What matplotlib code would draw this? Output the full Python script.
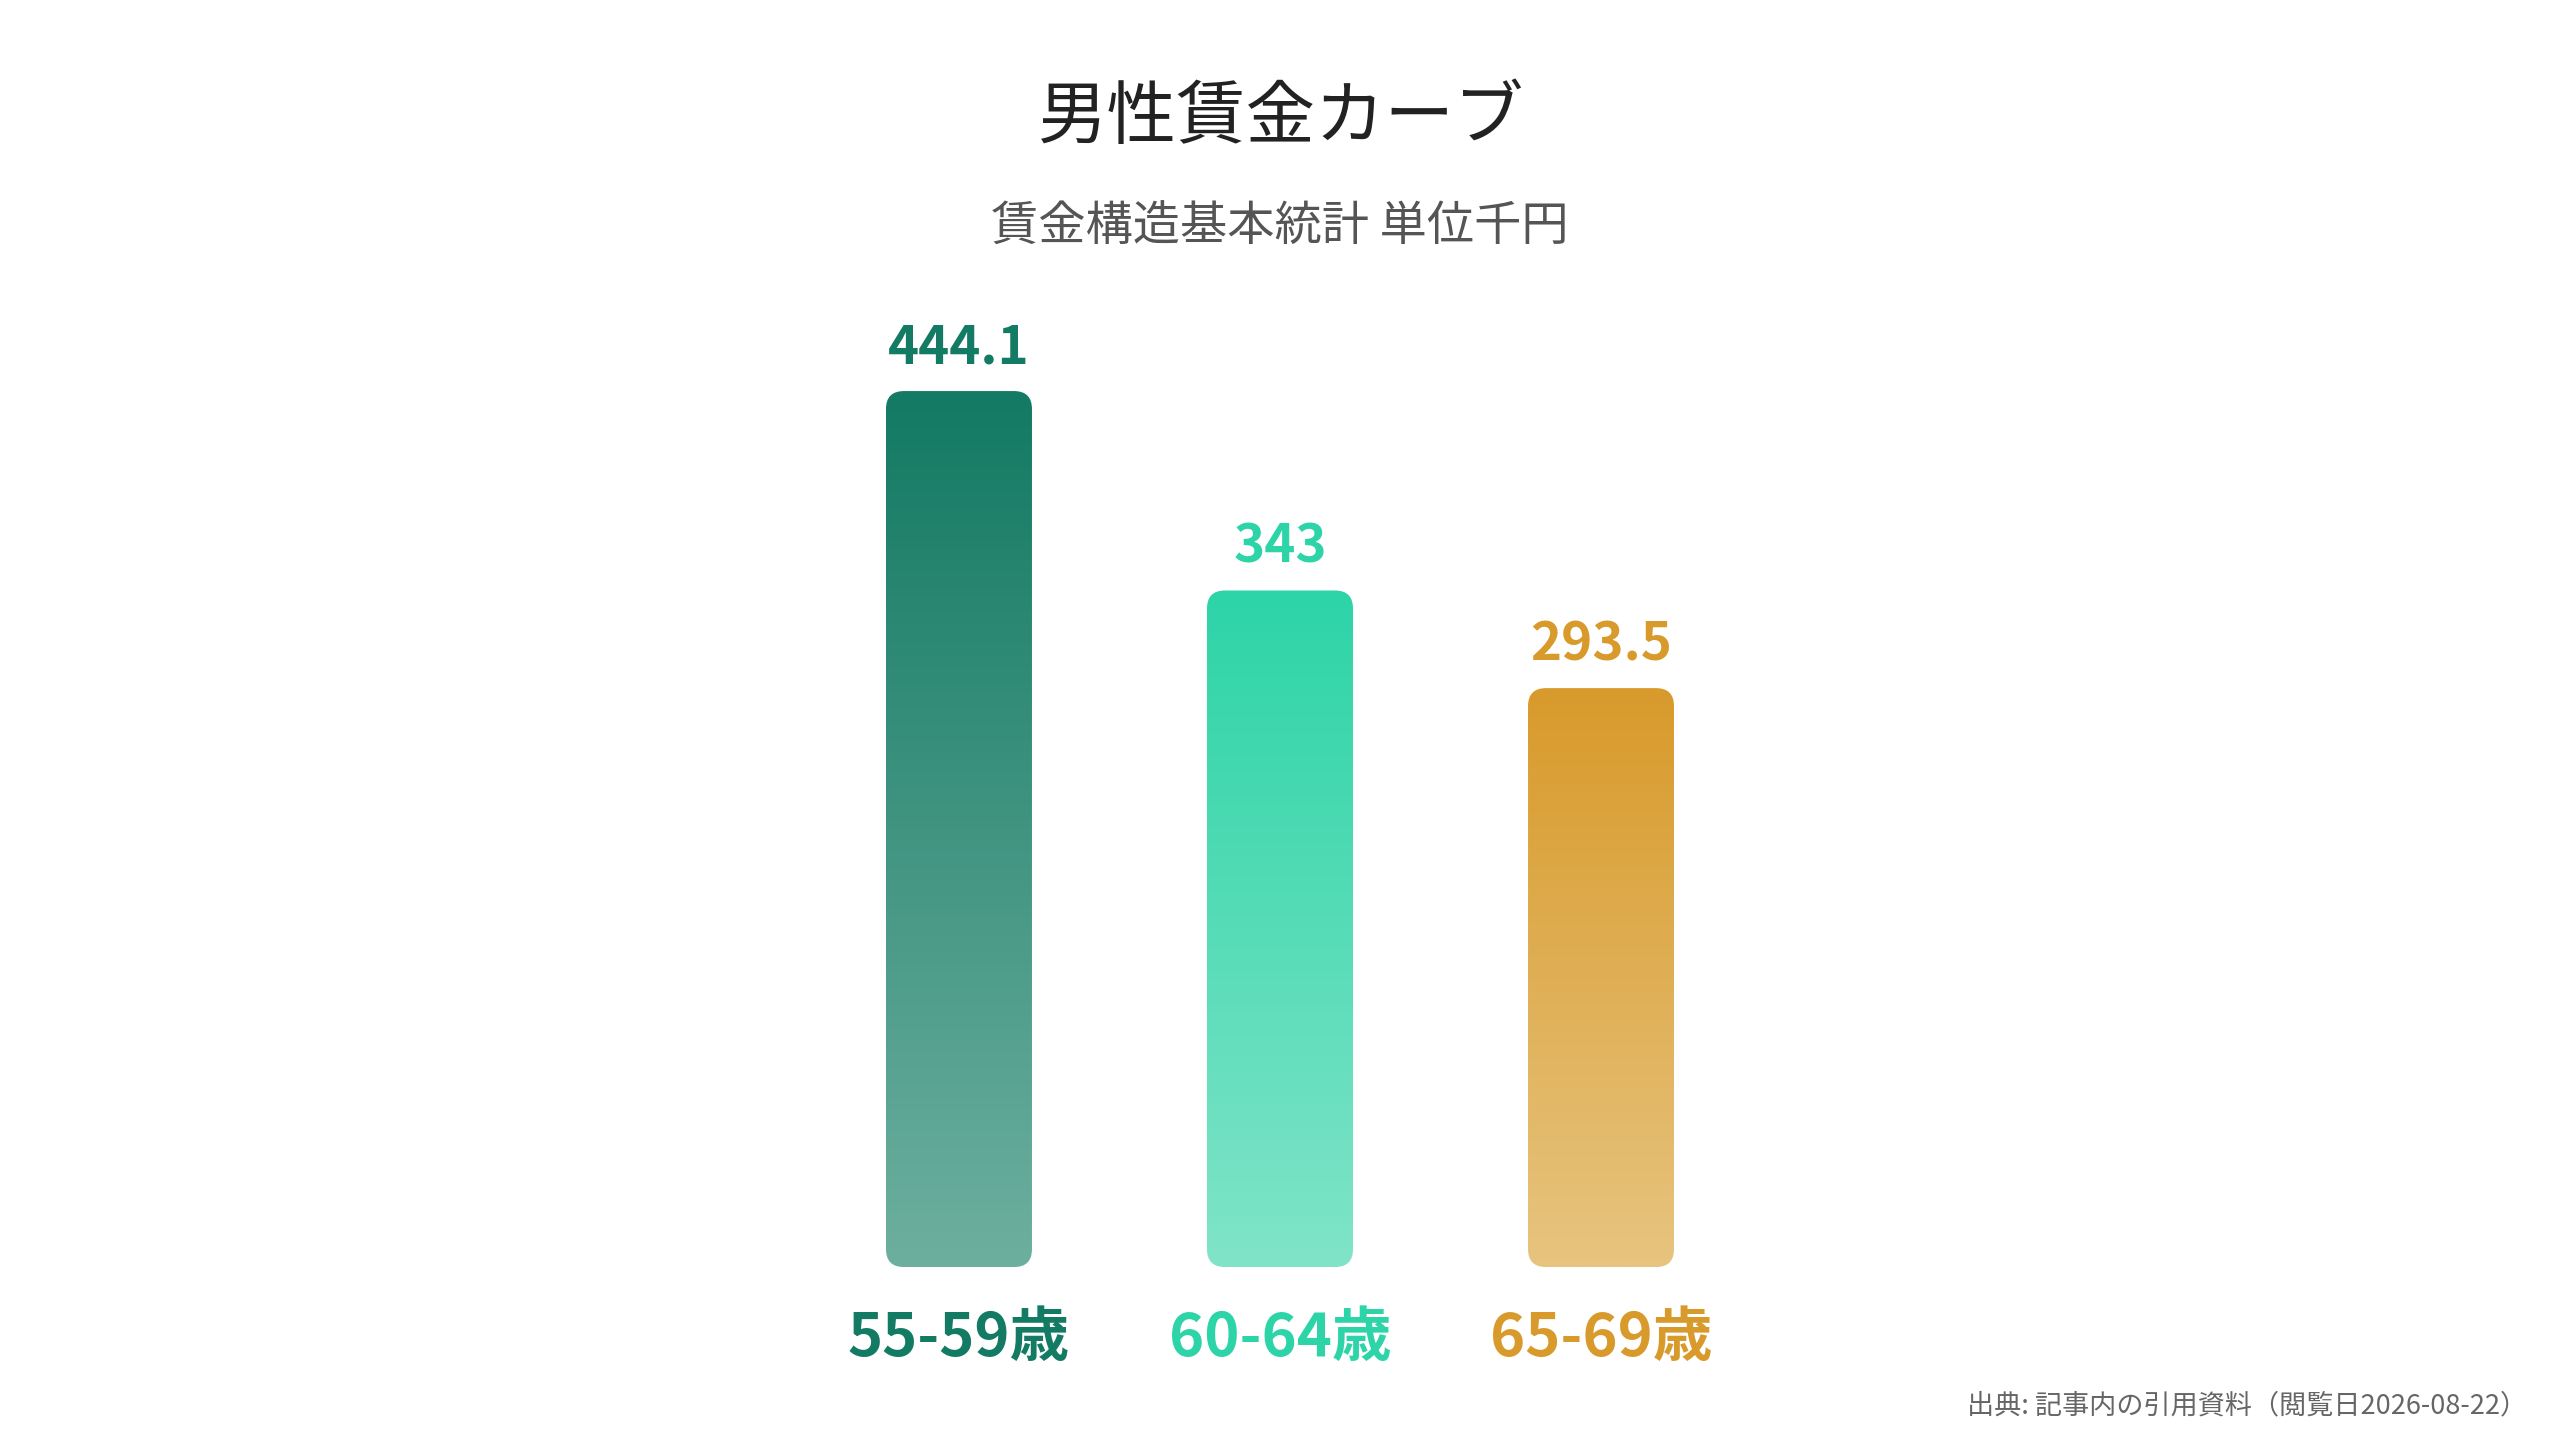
import numpy as np
import matplotlib
matplotlib.use("Agg")
import matplotlib.pyplot as plt
from matplotlib.patches import FancyBboxPatch
from matplotlib.colors import LinearSegmentedColormap

plt.rcParams['font.family'] = ['Noto Sans CJK JP', 'DejaVu Sans']

# data
categories = ["55-59歳", "60-64歳", "65-69歳"]
values = [444.1, 343, 293.5]
value_labels = ["444.1", "343", "293.5"]
top_colors = ["#137a63", "#2dd4a7", "#d89a2b"]
bottom_colors = ["#6daf9f", "#80e4c8", "#e7c47f"]

title = "男性賃金カーブ"
subtitle = "賃金構造基本統計 単位千円"
source = "出典: 記事内の引用資料（閲覧日2026-08-22）"

fig = plt.figure(figsize=(25.6, 14.4), dpi=100)
fig.patch.set_facecolor("white")

# axes placed so bars land where the reference has them
ax_box = [0.2492, 0.1201, 0.5016, 0.6849]
ax = fig.add_axes(ax_box)
ax.set_xlim(-1, 3)
ax.set_ylim(0, 500)
ax.axis("off")

bar_w = 146 / (ax_box[2] * 2560 / 4)
# pixel scales for rounding the corners evenly
px_per_x = ax_box[2] * 2560 / 4
px_per_y = ax_box[3] * 1440 / 500
aspect = px_per_x / px_per_y
r = 18 / px_per_x

for i, (cat, v, lab) in enumerate(zip(categories, values, value_labels)):
    x0 = i - bar_w / 2
    patch = FancyBboxPatch((x0, 0), bar_w, v,
                           boxstyle=f"round,pad=0,rounding_size={r}",
                           mutation_aspect=aspect,
                           facecolor="none", edgecolor="none")
    ax.add_patch(patch)
    cmap = LinearSegmentedColormap.from_list(f"g{i}", [bottom_colors[i], top_colors[i]])
    grad = np.linspace(0, 1, 256).reshape(-1, 1)
    im = ax.imshow(grad, cmap=cmap, origin="lower", aspect="auto",
                   extent=[x0, x0 + bar_w, 0, v], interpolation="bilinear")
    im.set_clip_path(patch)

    ax.annotate(lab, (i, v), xytext=(0, 12), textcoords="offset points",
                ha="center", va="bottom", fontsize=38, fontweight="bold",
                color=top_colors[i])
    ax.annotate(cat, (i, 0), xytext=(0, -52), textcoords="offset points",
                ha="center", va="center", fontsize=43, fontweight="bold",
                color=top_colors[i], annotation_clip=False)

fig.text(0.5, 0.918, title, ha="center", va="center", fontsize=50, color="#222222")
fig.text(0.5, 0.842, subtitle, ha="center", va="center", fontsize=34, color="#555555")
fig.text(0.987, 0.0236, source, ha="right", va="center", fontsize=19.5, color="#666666")

fig.savefig("out.png", dpi=100, facecolor="white")
